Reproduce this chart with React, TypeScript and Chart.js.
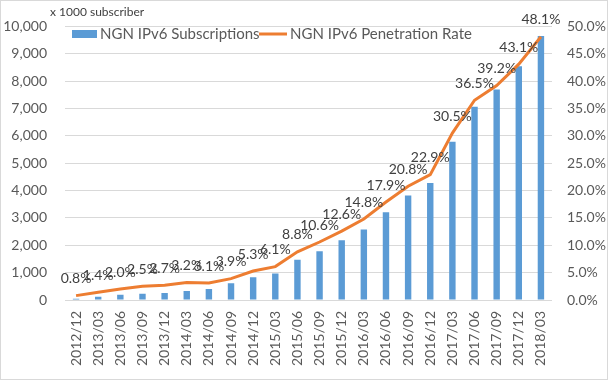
import React, { useEffect, useRef } from "react";
import { Chart, registerables } from "chart.js";

Chart.register(...registerables);

const categories = [
  "2012/12", "2013/03", "2013/06", "2013/09", "2013/12", "2014/03", "2014/06", "2014/09",
  "2014/12", "2015/03", "2015/06", "2015/09", "2015/12", "2016/03", "2016/06", "2016/09",
  "2016/12", "2017/03", "2017/06", "2017/09", "2017/12", "2018/03",
];
const subscriptions = [
  46, 118, 189, 224, 260, 331, 402, 616, 830, 972, 1471, 1781, 2183, 2575, 3205, 3821,
  4274, 5780, 7062, 7692, 8547, 9651,
];
const penetrationRate = [
  0.8, 1.4, 2.0, 2.5, 2.7, 3.2, 3.1, 3.9, 5.3, 6.1, 8.8, 10.6, 12.6, 14.8, 17.9, 20.8,
  22.9, 30.5, 36.5, 39.2, 43.1, 48.1,
];
const barLabel = "NGN IPv6 Subscriptions";
const lineLabel = "NGN IPv6 Penetration Rate";
const unitLabel = "x 1000 subscriber";

const FONT = "Lato, 'Noto Sans', sans-serif";
const BLUE = "#5B9BD5";
const ORANGE = "#ED7D31";

const extras = {
  id: "extras",
  afterDatasetsDraw(chart: any) {
    const ctx = chart.ctx;
    const meta = chart.getDatasetMeta(0);
    ctx.save();
    ctx.font = `14px ${FONT}`;
    ctx.fillStyle = "#404040";
    ctx.textAlign = "center";
    ctx.textBaseline = "middle";
    meta.data.forEach((pt: any, i: number) => {
      ctx.fillText(penetrationRate[i].toFixed(1) + "%", pt.x, pt.y - 17);
    });
    ctx.restore();
  },
  afterDraw(chart: any) {
    const ctx = chart.ctx;
    ctx.save();
    // unit label
    ctx.font = `12px ${FONT}`;
    ctx.fillStyle = "#404040";
    ctx.textAlign = "left";
    ctx.textBaseline = "middle";
    ctx.fillText(unitLabel, 50, 12);
    // legend
    ctx.font = `15px ${FONT}`;
    ctx.fillStyle = BLUE;
    ctx.fillRect(72, 30, 25, 8);
    ctx.fillStyle = "#595959";
    ctx.fillText(barLabel, 100, 34);
    ctx.strokeStyle = ORANGE;
    ctx.lineWidth = 3;
    ctx.beginPath();
    ctx.moveTo(259, 34);
    ctx.lineTo(287, 34);
    ctx.stroke();
    ctx.fillText(lineLabel, 290, 34);
    // border
    ctx.strokeStyle = "#d9d9d9";
    ctx.lineWidth = 1;
    ctx.strokeRect(0.5, 0.5, chart.width - 1, chart.height - 1);
    ctx.restore();
  },
};

export default function App() {
  const ref = useRef<HTMLCanvasElement>(null);
  useEffect(() => {
    document.body.style.margin = "0";
    const chart = new Chart(ref.current!, {
      type: "bar",
      data: {
        labels: categories,
        datasets: [
          {
            type: "line",
            label: lineLabel,
            data: penetrationRate,
            yAxisID: "y2",
            borderColor: ORANGE,
            backgroundColor: ORANGE,
            borderWidth: 3,
            pointRadius: 0,
            tension: 0,
            order: 0,
          } as any,
          {
            type: "bar",
            label: barLabel,
            data: subscriptions,
            yAxisID: "y",
            backgroundColor: BLUE,
            barPercentage: 0.29,
            categoryPercentage: 1,
            order: 1,
          },
        ],
      },
      options: {
        animation: false,
        responsive: false,
        layout: { padding: { top: 19, left: 0, right: 0, bottom: 0 } },
        plugins: { legend: { display: false }, tooltip: { enabled: false } },
        scales: {
          x: {
            grid: { display: false, drawTicks: false },
            border: { display: false },
            ticks: {
              minRotation: 90,
              maxRotation: 90,
              padding: 11,
              color: "#595959",
              font: { family: FONT, size: 14 },
              autoSkip: false,
            },
            afterFit: (s: any) => {
              s.height = 80;
            },
          },
          y: {
            position: "left",
            min: 0,
            max: 10000,
            grid: { color: "#d9d9d9", drawTicks: false },
            border: { display: false },
            ticks: {
              stepSize: 1000,
              padding: 18,
              color: "#595959",
              font: { family: FONT, size: 14 },
              callback: (v: any) => Number(v).toLocaleString("en-US"),
            },
            afterFit: (s: any) => {
              s.width = 65;
            },
          },
          y2: {
            position: "right",
            min: 0,
            max: 50,
            grid: { display: false, drawTicks: false },
            border: { display: false },
            ticks: {
              stepSize: 5,
              padding: 15,
              color: "#595959",
              font: { family: FONT, size: 14 },
              callback: (v: any) => Number(v).toFixed(1) + "%",
            },
            afterFit: (s: any) => {
              s.width = 56;
            },
          },
        },
      },
      plugins: [extras],
    });
    return () => chart.destroy();
  }, []);
  return (
    <div style={{ width: 608, height: 380, background: "#fff" }}>
      <canvas ref={ref} width={608} height={380} style={{ display: "block" }} />
    </div>
  );
}
